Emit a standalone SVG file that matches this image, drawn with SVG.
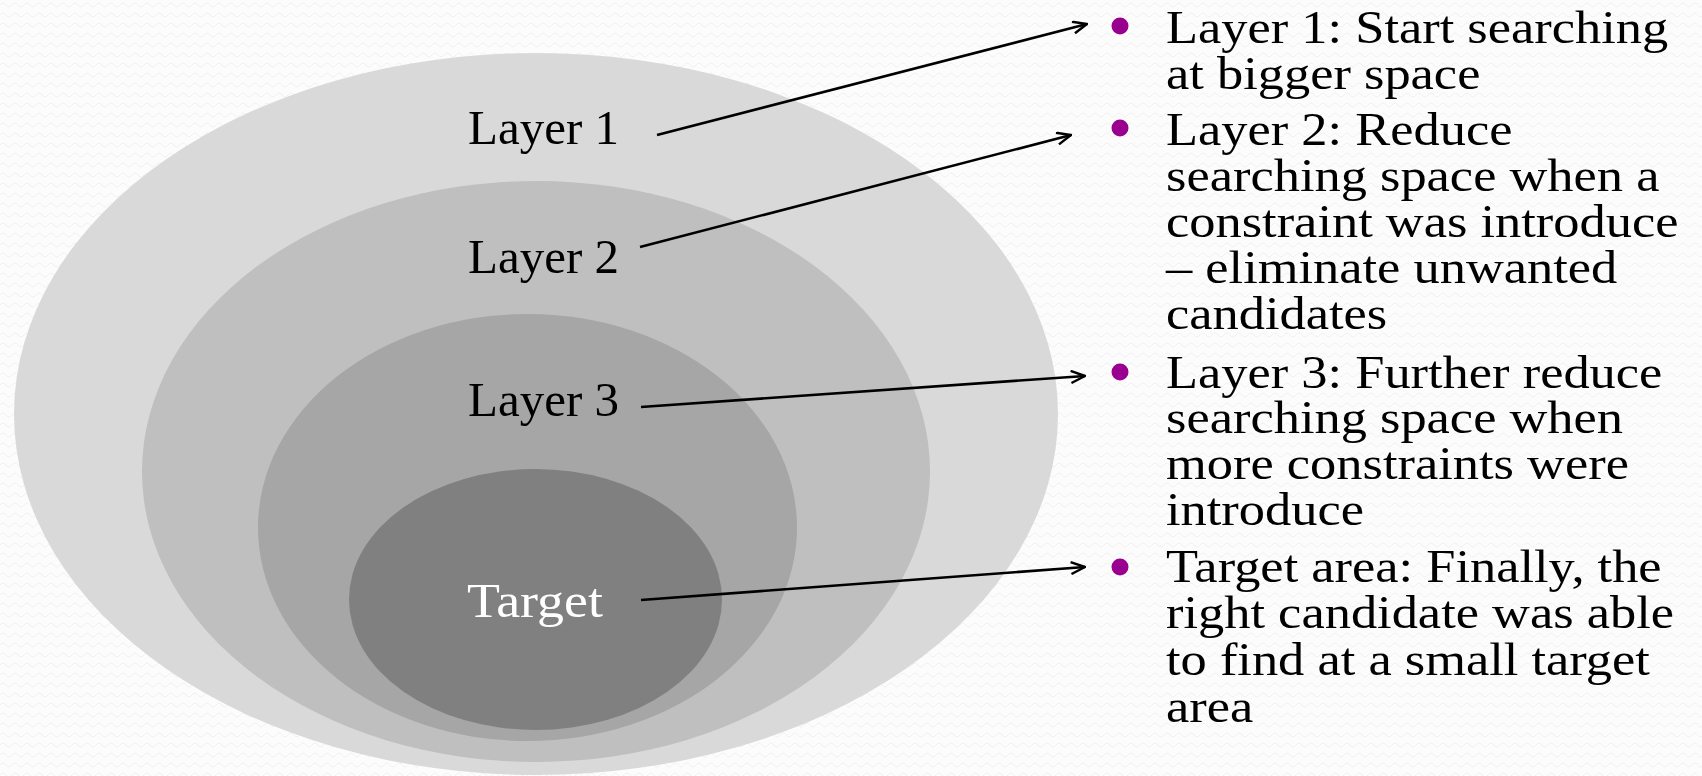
<svg xmlns="http://www.w3.org/2000/svg" width="1702" height="776" viewBox="0 0 1702 776">
  <defs>
    <!-- faint wavy paper texture -->
    <pattern id="paper" width="12" height="10" patternUnits="userSpaceOnUse">
      <rect width="12" height="10" fill="#fcfcfc"/>
      <path d="M0,5 Q3,1 6,5 T12,5" fill="none" stroke="#f1f1f1" stroke-width="1"/>
    </pattern>
    <marker id="open-arrow" viewBox="0 0 16 14" refX="15" refY="7" markerWidth="16" markerHeight="14" markerUnits="userSpaceOnUse" orient="auto">
      <path d="M1,1 L15,7 L1,13" fill="none" stroke="#000" stroke-width="2.4" stroke-linejoin="miter"/>
    </marker>
    <style>
      .label { font-family: "Liberation Serif", "Times New Roman", serif; font-size: 49px; fill: #000; }
      .label-light { fill: #fff; }
      .desc { font-family: "Liberation Serif", "Times New Roman", serif; font-size: 46px; fill: #000; }
      .bullet { fill: #990090; }
      .connector { fill: none; stroke: #000; stroke-width: 2.6; marker-end: url(#open-arrow); }
    </style>
  </defs>

  <rect width="1702" height="776" fill="url(#paper)"/>

  <!-- nested search layers -->
  <g id="layer1">
    <ellipse cx="536" cy="414" rx="522" ry="361" fill="#d9d9d9"/>
    <text class="label" x="468" y="144">Layer 1</text>
  </g>
  <g id="layer2">
    <ellipse cx="536" cy="471.5" rx="394" ry="290.5" fill="#bfbfbf"/>
    <text class="label" x="468" y="273">Layer 2</text>
  </g>
  <g id="layer3">
    <ellipse cx="527.5" cy="527.5" rx="269.5" ry="213.5" fill="#a6a6a6"/>
    <text class="label" x="468" y="416">Layer 3</text>
  </g>
  <g id="target">
    <ellipse cx="535.5" cy="599.5" rx="186.5" ry="130.5" fill="#808080"/>
    <text class="label label-light" x="467" y="617" textLength="136" lengthAdjust="spacingAndGlyphs">Target</text>
  </g>

  <!-- connectors from each layer to its description -->
  <g id="connectors">
    <line class="connector" x1="657" y1="135" x2="1087" y2="24"/>
    <line class="connector" x1="640" y1="247" x2="1071" y2="135"/>
    <line class="connector" x1="641" y1="407" x2="1085" y2="376"/>
    <line class="connector" x1="641" y1="600" x2="1085" y2="567"/>
  </g>

  <!-- bulleted descriptions -->
  <g id="desc-layer1">
    <circle class="bullet" cx="1120" cy="26" r="8.5"/>
    <g transform="translate(1166,0) scale(1.14,1)">
      <text class="desc" x="0" y="43">Layer 1: Start searching</text>
      <text class="desc" x="0" y="89">at bigger space</text>
    </g>
  </g>
  <g id="desc-layer2">
    <circle class="bullet" cx="1120" cy="128" r="8.5"/>
    <g transform="translate(1166,0) scale(1.14,1)">
      <text class="desc" x="0" y="145">Layer 2: Reduce</text>
      <text class="desc" x="0" y="191">searching space when a</text>
      <text class="desc" x="0" y="237">constraint was introduce</text>
      <text class="desc" x="0" y="283">– eliminate unwanted</text>
      <text class="desc" x="0" y="329">candidates</text>
    </g>
  </g>
  <g id="desc-layer3">
    <circle class="bullet" cx="1120" cy="372" r="8.5"/>
    <g transform="translate(1166,0) scale(1.14,1)">
      <text class="desc" x="0" y="388">Layer 3: Further reduce</text>
      <text class="desc" x="0" y="433">searching space when</text>
      <text class="desc" x="0" y="479">more constraints were</text>
      <text class="desc" x="0" y="525">introduce</text>
    </g>
  </g>
  <g id="desc-target">
    <circle class="bullet" cx="1120" cy="567" r="8.5"/>
    <g transform="translate(1166,0) scale(1.14,1)">
      <text class="desc" x="0" y="582">Target area: Finally, the</text>
      <text class="desc" x="0" y="628">right candidate was able</text>
      <text class="desc" x="0" y="675">to find at a small target</text>
      <text class="desc" x="0" y="722">area</text>
    </g>
  </g>
</svg>
